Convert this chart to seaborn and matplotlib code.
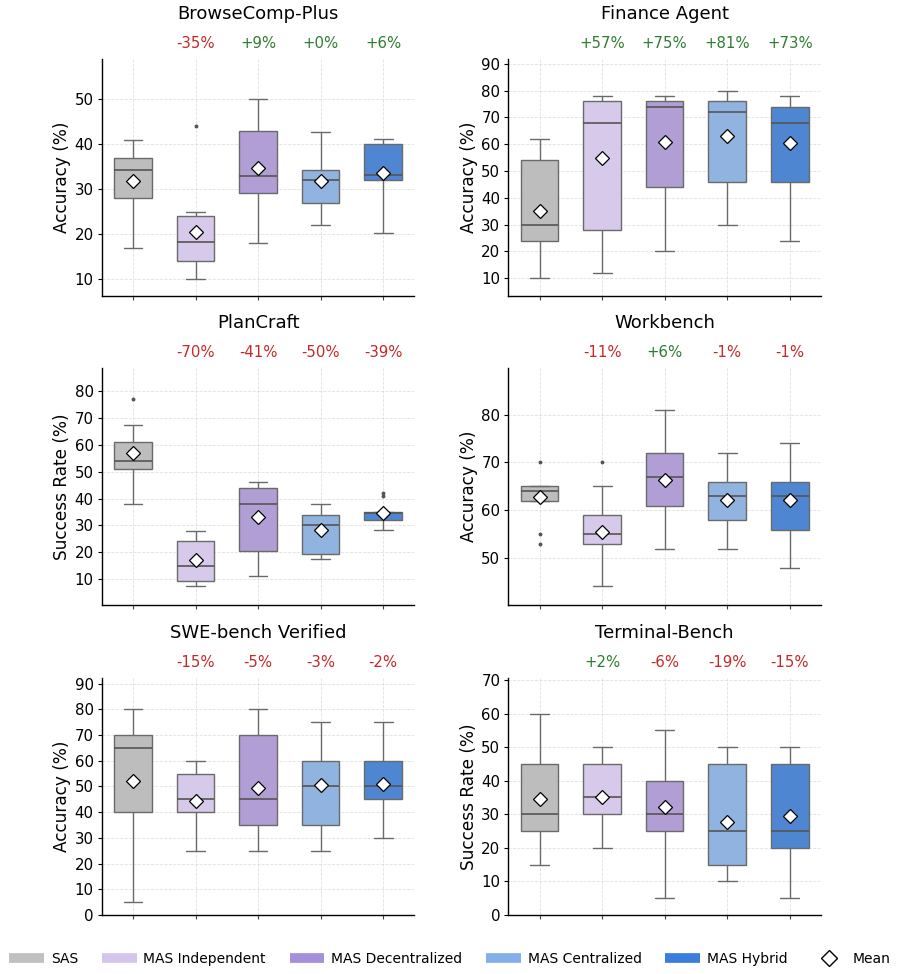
import numpy as np
import pandas as pd
import matplotlib
matplotlib.use("Agg")
import matplotlib.pyplot as plt
from matplotlib.lines import Line2D
from matplotlib.ticker import MultipleLocator
import seaborn as sns

# ---------------- data ----------------
architectures = ["SAS", "MAS Independent", "MAS Decentralized", "MAS Centralized", "MAS Hybrid"]

benchmarks = ["BrowseComp-Plus", "Finance Agent", "PlanCraft", "Workbench", "SWE-bench Verified", "Terminal-Bench"]
y_labels = ["Accuracy (%)", "Accuracy (%)", "Success Rate (%)", "Accuracy (%)", "Accuracy (%)", "Success Rate (%)"]

browsecomp_plus = [
    [17, 25, 28, 31, 34.3, 35, 37, 37.9, 41],
    [10, 12, 14, 16, 18.2, 22.2, 24, 25, 44],
    [18, 22, 29.3, 31, 33, 40, 43, 46, 50],
    [22, 25, 27, 30, 32.2, 33, 34.3, 39.9, 42.8],
    [20.2, 26, 32, 32.5, 33.3, 36.5, 40, 40.6, 41.3],
]
finance_agent = [
    [10, 18, 24, 27, 30, 35, 54, 55, 62],
    [12, 20, 28, 60, 68, 73, 76, 77.3, 78],
    [20, 32, 44, 72, 74, 75, 76, 76.2, 78],
    [30, 44, 46, 68, 72, 74, 76, 77, 80],
    [24, 40, 46, 66, 68, 72, 74, 75.6, 78],
]
plancraft = [
    [38, 50, 51, 53, 54, 59.6, 61, 67.6, 77],
    [7.3, 8, 9.2, 14, 15, 22, 24, 26.4, 28],
    [11.2, 18, 20.3, 34, 38, 42, 44, 45.3, 46],
    [17.3, 18, 19.2, 28, 30, 33, 34, 36.3, 38],
    [28.3, 31, 32, 33.7, 34.5, 34.8, 35, 41, 42],
]
workbench = [
    [53, 55, 62, 62, 63.3, 63.4, 64, 65, 65, 65, 65, 65, 70],
    [44.2, 45, 53, 53.5, 55, 55.7, 59, 65, 70],
    [52, 58, 61, 64, 67, 69, 72, 73.6, 81],
    [52, 56, 58, 60, 63, 64, 66, 67.9, 72],
    [48, 54, 56, 62, 63, 65, 66, 70.9, 74],
]
swe_bench_verified = [
    [5, 20, 40, 50, 65, 68, 70, 71.8, 80],
    [25, 30, 40, 42, 45, 48, 55, 55.5, 60],
    [25, 30, 35, 40, 45, 49.6, 70, 70, 80],
    [25, 33, 35, 48, 50, 58, 60, 70.5, 75],
    [30, 42, 45, 47, 50, 50, 60, 60, 75],
]
terminal_bench = [
    [15, 20, 25, 25, 30, 40, 45, 50.5, 60],
    [20, 25, 30, 30, 35, 35, 45, 45, 50],
    [5, 25, 25, 30, 30, 39.8, 40, 40, 55],
    [10, 12, 15, 20, 25, 28.2, 45, 45, 50],
    [5, 15, 20, 22, 25, 38.5, 45, 45, 50],
]
all_data = [browsecomp_plus, finance_agent, plancraft, workbench, swe_bench_verified, terminal_bench]

delta_labels = [
    ["", "-35%", "+9%", "+0%", "+6%"],
    ["", "+57%", "+75%", "+81%", "+73%"],
    ["", "-70%", "-41%", "-50%", "-39%"],
    ["", "-11%", "+6%", "-1%", "-1%"],
    ["", "-15%", "-5%", "-3%", "-2%"],
    ["", "+2%", "-6%", "-19%", "-15%"],
]

y_limits = [(6.3, 59), (3.4, 91.8), (0.3, 88.7), (40.3, 89.7), (0, 92.2), (0, 70.6)]

# ---------------- style ----------------
box_colors = ["#BDBDBD", "#D6C9E9", "#B09ED5", "#91B3E0", "#4F86D2"]
legend_colors = ["#C0C0C0", "#D5C5EC", "#A48FDA", "#86AEE8", "#3A7DDC"]
green = "#2E7D32"
red = "#C62828"

sns.set_theme(style="white")
plt.rcParams["font.family"] = ["DejaVu Sans"]
plt.rcParams.update({
    "text.color": "black",
    "axes.labelcolor": "black",
    "xtick.color": "black",
    "ytick.color": "black",
    "axes.titlecolor": "black",
})

fig = plt.figure(figsize=(9, 9.74), dpi=100)

col_left = [0.113, 0.5648]
col_w = 0.3475
row_bottom = [0.6961, 0.3789, 0.0606]
row_h = 0.2433

for i, (name, groups) in enumerate(zip(benchmarks, all_data)):
    r, c = divmod(i, 2)
    ax = fig.add_axes([col_left[c], row_bottom[r], col_w, row_h])
    df = pd.DataFrame(
        [(arch, v) for arch, vals in zip(architectures, groups) for v in vals],
        columns=["Architecture", "Score"],
    )
    sns.boxplot(
        data=df, x="Architecture", y="Score", hue="Architecture",
        order=architectures, hue_order=architectures,
        palette=box_colors, saturation=1, width=0.6, legend=False,
        linecolor="#6A6A6A", linewidth=1.0,
        showmeans=True,
        meanprops=dict(marker="D", markerfacecolor="white", markeredgecolor="black",
                       markersize=7, markeredgewidth=0.9),
        medianprops=dict(color="#555555", linewidth=1.2),
        flierprops=dict(marker="o", markersize=1.8, markerfacecolor="#555555",
                        markeredgecolor="#555555"),
        ax=ax,
    )
    ax.set_xlim(-0.5, 4.5)
    ax.set_ylim(*y_limits[i])
    ax.yaxis.set_major_locator(MultipleLocator(10))
    ax.set_xticks(range(len(architectures)))
    ax.set_xticklabels([])
    ax.set_xlabel("")
    ax.set_ylabel(y_labels[i], fontsize=12.2, labelpad=2.5)
    ax.tick_params(axis="y", labelsize=10.8, length=2.8, width=0.8, pad=3, left=True, color="black")
    ax.tick_params(axis="x", length=3, width=0.8, bottom=True, color="#444444")
    ax.grid(True, linestyle="--", linewidth=0.6, color="#D9D9D9", alpha=0.8)
    ax.set_axisbelow(True)
    for s in ["top", "right"]:
        ax.spines[s].set_visible(False)
    for s in ["left", "bottom"]:
        ax.spines[s].set_color("black")
        ax.spines[s].set_linewidth(1.0)
    ax.set_title(name, fontsize=13, pad=29)
    for j, lab in enumerate(delta_labels[i]):
        if lab:
            ax.text(j, 1.065, lab, transform=ax.get_xaxis_transform(), ha="center", va="center",
                    fontsize=10.7, color=green if lab.startswith("+") else red)

handles = [Line2D([0], [0], color=col, lw=7, solid_capstyle="butt") for col in legend_colors]
handles.append(Line2D([0], [0], marker="D", linestyle="none", markerfacecolor="white",
                      markeredgecolor="black", markersize=8))
labels = architectures + ["Mean"]
fig.legend(handles, labels, loc="center", bbox_to_anchor=(0.5, 0.0155), ncol=6, frameon=False,
           fontsize=10, handlelength=2.5, columnspacing=1.7, handletextpad=0.5)

fig.savefig("out.png", dpi=100)
